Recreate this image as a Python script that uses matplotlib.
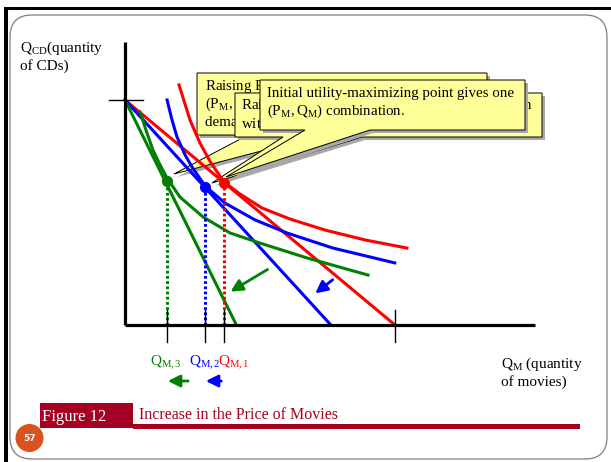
import matplotlib
matplotlib.use('Agg')
import matplotlib.pyplot as plt
from matplotlib.patches import Polygon, FancyBboxPatch, Rectangle, Circle

plt.rcParams['font.family'] = ['Liberation Serif', 'DejaVu Serif']
plt.rcParams['mathtext.fontset'] = 'stix'

# ---------------- data (economic units) ----------------
curve_colors = ['#FF0000', '#0000FF', '#008000']      # initial, 2nd, 3rd price
cd_max = 10.0                                         # CD intercept of every budget line
movie_max = [12.0, 9.15, 4.95]                        # movie intercepts of budget lines
opt_movies = [4.40, 3.56, 1.85]                       # Q_M,1  Q_M,2  Q_M,3
opt_cds = [6.33, 6.12, 6.42]
q_labels = [r'$\mathregular{Q_{M,1}}$', r'$\mathregular{Q_{M,2}}$', r'$\mathregular{Q_{M,3}}$']

ic_red_x = [2.40, 2.89, 3.33, 3.82, 4.40, 5.11, 6.09, 7.33, 8.89, 10.67, 12.53]
ic_red_y = [10.67, 9.11, 8.09, 7.20, 6.36, 5.82, 5.20, 4.71, 4.22, 3.78, 3.42]
ic_blue_x = [1.87, 2.09, 2.31, 2.67, 2.98, 3.56, 4.44, 5.78, 7.20, 9.24, 11.99]
ic_blue_y = [10.00, 9.11, 8.36, 7.56, 7.02, 6.18, 5.42, 4.67, 4.09, 3.42, 2.76]
ic_green_x = [0.67, 0.93, 1.24, 1.56, 1.87, 2.44, 3.47, 4.67, 6.00, 8.09, 10.80]
ic_green_y = [9.47, 8.67, 7.78, 7.11, 6.53, 5.69, 4.80, 4.09, 3.64, 2.98, 2.22]

callout_texts = [
    [r'Raising $\mathregular{P_M}$ again gives a third', r'$\mathregular{(P_M,Q_M)}$ combination on the', 'demand curve.'],
    [r'Raising $\mathregular{P_M}$ moves the consumer to a point, each', r'with a lower $\mathregular{Q_M}$.'],
    ['Initial utility-maximizing point gives one', r'$\mathregular{(P_M,Q_M)}$ combination.'],
]

# ---------------- figure ----------------
W, H = 611, 462
fig = plt.figure(figsize=(W / 100, H / 100), dpi=100)

# slide layer in pixel coordinates
bg = fig.add_axes([0, 0, 1, 1], zorder=0)
bg.set_xlim(0, W)
bg.set_ylim(H, 0)
bg.axis('off')

# frame
bg.add_patch(FancyBboxPatch((10, 15), 597, 444, boxstyle='round,pad=0,rounding_size=22',
                            fc='white', ec='#7f7f7f', lw=0.9, zorder=0))
bg.add_patch(Rectangle((4, 7), 3.5, 455, fc='black', ec='none', zorder=1))
bg.add_patch(Rectangle((4, 6.5), 607, 3.5, fc='black', ec='none', zorder=1))

# caption
dark_red = '#A50021'
bg.add_patch(Rectangle((40, 403), 93, 25, fc=dark_red, ec='none', zorder=1))
bg.add_patch(Rectangle((133, 424), 447, 4.5, fc=dark_red, ec='none', zorder=1))
bg.text(42, 421, 'Figure 12', color='white', fontsize=12, va='baseline', zorder=2)
bg.text(139, 419, 'Increase in the Price of Movies', color=dark_red, fontsize=11.5,
        va='baseline', zorder=2)
bg.add_patch(Circle((29.5, 438), 14, fc='#D9531E', ec='none', zorder=2))
bg.text(29.5, 438.5, '57', color='white', fontsize=6.5, fontweight='bold',
        family='DejaVu Sans', ha='center', va='center', zorder=3)

# axis titles
bg.text(20, 52, r'$\mathregular{Q_{CD}}$(quantity', fontsize=11, va='baseline')
bg.text(20, 70, 'of CDs)', fontsize=11, va='baseline')
bg.text(501, 368, r'$\mathregular{Q_{M}}$ (quantity', fontsize=11, va='baseline')
bg.text(501, 386, 'of movies)', fontsize=11, va='baseline')

# callouts (pixel layout)
boxes = [(197, 73, 487, 135), (235, 93, 542, 137), (260, 80, 525, 130)]
wedges = [(248, 322, (174, 174)), (283, 362, (212, 183)), (305, 370, (226, 177))]
text_x = [205, 241, 267]
text_y0 = [90, 109, 97]
z = 2
for (x0, y0, x1, y1), (b1, b2, tip), tx, ty, lines in zip(boxes, wedges, text_x, text_y0, callout_texts):
    pts = [(x0, y0), (x1, y0), (x1, y1), (b2, y1), tip, (b1, y1), (x0, y1)]
    shadow = [(px + 3, py + 3) for px, py in pts]
    bg.add_patch(Polygon(shadow, closed=True, fc='#a8a8a8', ec='none', zorder=z))
    bg.add_patch(Polygon(pts, closed=True, fc='#FFFF99', ec='black', lw=0.7, zorder=z + 0.1))
    for i, line in enumerate(lines):
        bg.text(tx, ty + 18 * i, line, fontsize=10.8, va='baseline', zorder=z + 0.2)
    z += 1

# ---------------- chart layer (economic units) ----------------
S = 22.5            # pixels per unit
ox, oy = 125, 325   # pixel position of origin
ax = fig.add_axes([0, 0, 1, 1], zorder=1)
ax.set_xlim(-ox / S, (W - ox) / S)
ax.set_ylim(-(H - oy) / S, oy / S)
ax.axis('off')
ax.patch.set_alpha(0)

x_axis_end = 18.2
y_axis_end = 12.58
ax.plot([0, x_axis_end], [0, 0], color='black', lw=2.3, solid_capstyle='butt', zorder=5)
ax.plot([0, 0], [0, y_axis_end], color='black', lw=2.3, solid_capstyle='butt', zorder=5)
# tick marks
ax.plot([-0.71, 0.8], [cd_max, cd_max], color='black', lw=1.0, zorder=5)
for q in opt_movies + [movie_max[0]]:
    ax.plot([q, q], [0.67, -0.76], color='black', lw=1.0, zorder=5)

# budget lines
for c, m in zip(curve_colors, movie_max):
    ax.plot([0, m], [cd_max, 0], color=c, lw=2.2, zorder=3)

# indifference curves
ax.plot(ic_red_x, ic_red_y, color=curve_colors[0], lw=2.2, zorder=3, solid_joinstyle='round')
ax.plot(ic_blue_x, ic_blue_y, color=curve_colors[1], lw=2.2, zorder=3, solid_joinstyle='round')
ax.plot(ic_green_x, ic_green_y, color=curve_colors[2], lw=2.2, zorder=3, solid_joinstyle='round')

# optimum points and drop lines
label_dx = [0.45, 0.0, -0.05]
for c, q, y, lab, dx in zip(curve_colors, opt_movies, opt_cds, q_labels, label_dx):
    ax.plot([q, q], [0, y], color=c, lw=2.2, ls=(0, (0.9, 0.8)), zorder=4)
    ax.plot([q], [y], 'o', color=c, ms=7, zorder=6)
    ax.text(q + dx, -1.69, lab, color=c, fontsize=11, ha='center', va='center')

# shift arrows
arrow_kw = dict(arrowstyle='-|>,head_length=0.6,head_width=0.3', lw=2.0, mutation_scale=12)
ax.annotate('', xy=(4.58, 1.42), xytext=(6.44, 2.53),
            arrowprops=dict(color=curve_colors[2], **arrow_kw), zorder=6)
ax.annotate('', xy=(8.36, 1.33), xytext=(9.33, 2.09),
            arrowprops=dict(color=curve_colors[1], **arrow_kw), zorder=6)
ax.annotate('', xy=(1.78, -2.49), xytext=(2.93, -2.49),
            arrowprops=dict(color=curve_colors[2], **arrow_kw), zorder=6)
ax.annotate('', xy=(3.47, -2.49), xytext=(4.40, -2.49),
            arrowprops=dict(color=curve_colors[1], **arrow_kw), zorder=6)

fig.savefig('out.png', dpi=100)
